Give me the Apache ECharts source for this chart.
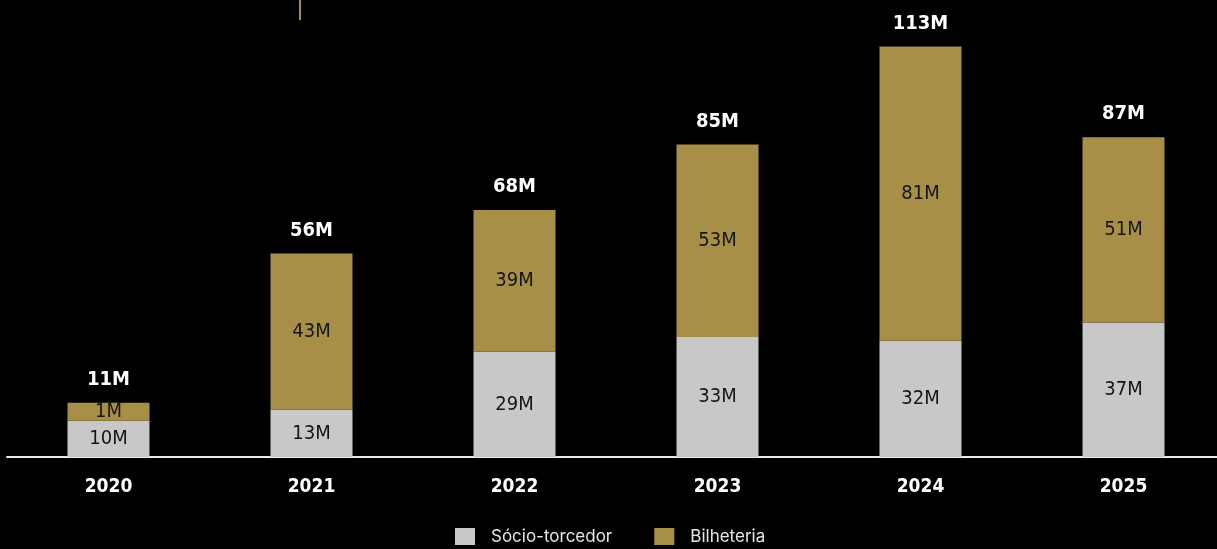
<!DOCTYPE html>
<html>
<head>
<meta charset="utf-8">
<script src="https://cdn.jsdelivr.net/npm/echarts@6/dist/echarts.min.js"></script>
<style>
html,body{margin:0;padding:0;background:#000;overflow:hidden;}
#c{width:1240px;height:549px;}
</style>
</head>
<body>
<div id="c"></div>
<script>
const categories = ['2020', '2021', '2022', '2023', '2024', '2025'];
const socioTorcedor = [10, 13, 29, 33, 32, 37];
const bilheteria = [1, 43, 39, 53, 81, 51];
const totals = [11, 56, 68, 85, 113, 87];

const GREY = '#c8c8c8';
const GOLD = '#a88f48';
const NARROW = "'Liberation Sans Narrow', 'DejaVu Sans Condensed', 'Roboto', sans-serif";

const chart = echarts.init(document.getElementById('c'));
chart.setOption({
  backgroundColor: '#000',
  animation: false,
  grid: { left: 7, width: 1218, top: 21, bottom: 92 },
  legend: {
    data: ['Sócio-torcedor', 'Bilheteria'],
    top: 523,
    left: 450,
    itemWidth: 20,
    itemHeight: 17,
    itemGap: 42,
    icon: 'rect',
    textStyle: { color: '#e6e6e6', fontSize: 17, fontFamily: 'Inter, Roboto, sans-serif', padding: [0, 0, 0, 11] }
  },
  xAxis: {
    type: 'category',
    data: categories,
    axisLine: { lineStyle: { color: '#e8e8e8', width: 2 } },
    axisTick: { show: false },
    axisLabel: { color: '#ffffff', fontSize: 19, fontWeight: 'bold', fontFamily: NARROW, margin: 21 }
  },
  yAxis: {
    type: 'value', min: 0, max: 120,
    show: false,
    splitLine: { show: false }
  },
  graphic: [{
    type: 'line', shape: { x1: 300, y1: 0, x2: 300, y2: 20 },
    style: { stroke: '#a88f48', lineWidth: 2 }
  }],
  series: [
    {
      name: 'Sócio-torcedor', type: 'bar', stack: 's', barWidth: 82,
      data: socioTorcedor,
      itemStyle: { color: GREY },
      label: { show: true, position: 'inside', color: '#151515', fontSize: 20, fontFamily: NARROW,
        formatter: p => p.value + 'M' }
    },
    {
      name: 'Bilheteria', type: 'bar', stack: 's', barWidth: 82, barMinHeight: 18,
      data: bilheteria,
      itemStyle: { color: GOLD },
      label: { show: true, position: 'inside', color: '#151515', fontSize: 20, fontFamily: NARROW,
        formatter: p => p.value + 'M' }
    },
    {
      name: 'base_hidden', type: 'bar', stack: 't', barWidth: 82, barGap: '-100%',
      data: socioTorcedor, silent: true,
      itemStyle: { color: 'rgba(0,0,0,0)' }, label: { show: false }
    },
    {
      name: 'total_hidden', type: 'bar', stack: 't', barWidth: 82, barGap: '-100%', barMinHeight: 18,
      data: bilheteria, silent: true,
      itemStyle: { color: 'rgba(0,0,0,0)' },
      label: { show: true, position: 'top', distance: 13, color: '#ffffff', fontSize: 20, fontWeight: 'bold',
        fontFamily: NARROW, formatter: p => totals[p.dataIndex] + 'M' }
    }
  ]
});
</script>
</body>
</html>
